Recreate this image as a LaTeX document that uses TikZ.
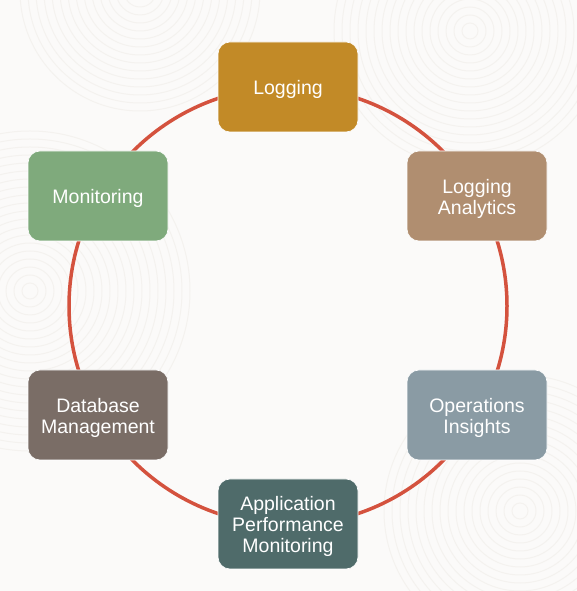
\documentclass[tikz,border=0pt]{standalone}
\usepackage{fontspec}
\setmainfont{Liberation Sans}
\definecolor{bgc}{HTML}{FBFAF9}
\definecolor{tex}{HTML}{F4F2EF}
\definecolor{ring}{HTML}{D4523E}
\definecolor{cLog}{HTML}{C28A27}
\definecolor{cLA}{HTML}{B08E70}
\definecolor{cOI}{HTML}{8A9BA4}
\definecolor{cAPM}{HTML}{4F6B6A}
\definecolor{cDB}{HTML}{7A6D66}
\definecolor{cMon}{HTML}{7FAA7C}
\tikzset{
  box/.style={rounded corners=12pt, minimum width=140pt, minimum height=90pt,
    inner sep=0pt, draw=white, line width=0.6pt},
  lbl/.style={text=white, align=center, font=\fontsize{19.5}{21}\selectfont,
    inner sep=0pt, yshift=-2.5pt},
  ringline/.style={draw=ring, line width=3.5pt}
}
\begin{document}
\begin{tikzpicture}[x=1pt,y=1pt]
\fill[bgc] (0,0) rectangle (577,591);
\useasboundingbox (0,0) rectangle (577,591);
\begin{scope}[draw=tex, line width=1pt]
  \clip (0,0) rectangle (577,591);
  \foreach \r in {8,16,...,160} {\draw (30,300) circle (\r);}
  \foreach \r in {8,16,...,140} {\draw (470,560) circle (\r);}
  \foreach \r in {8,16,...,140} {\draw (520,80) circle (\r);}
  \foreach \r in {8,16,...,120} {\draw (140,600) circle (\r);}
\end{scope}
\coordinate (ctr) at (288,285);
\draw[ringline] (ctr) circle (219);
\node[box, fill=cLog, label={[lbl]center:Logging}] (log) at (288,504) {};
\node[box, fill=cLA, label={[lbl]center:Logging\\Analytics}] (la) at (477,395) {};
\node[box, fill=cOI, label={[lbl]center:Operations\\Insights}] (oi) at (477,176) {};
\node[box, fill=cAPM, label={[lbl]center:Application\\Performance\\Monitoring}] (apm) at (288,67) {};
\node[box, fill=cDB, label={[lbl]center:Database\\Management}] (db) at (98,176) {};
\node[box, fill=cMon, label={[lbl]center:Monitoring}] (mon) at (98,395) {};
\end{tikzpicture}
\end{document}
